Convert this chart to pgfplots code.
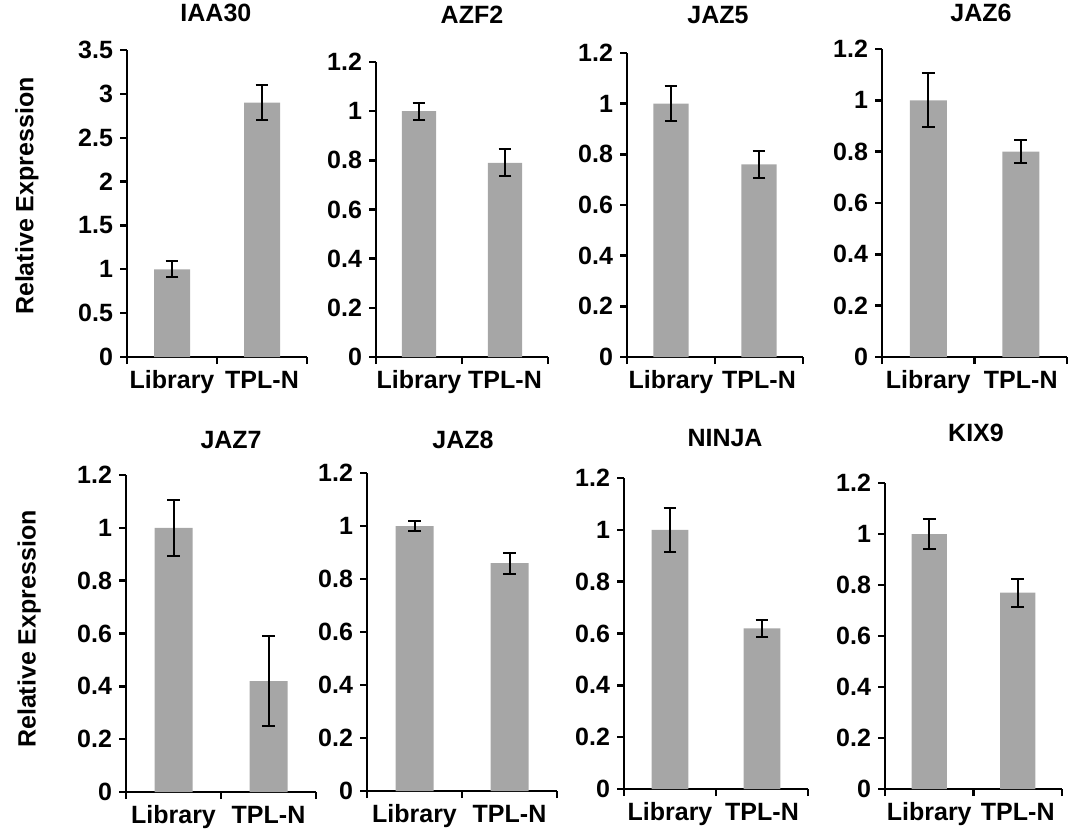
\documentclass[border=0pt]{standalone}
\usepackage{fontspec}
\setmainfont{Liberation Sans}
\usepackage{pgfplots}
\pgfplotsset{compat=1.18}
\definecolor{barcol}{RGB}{166,166,166}
\pgfplotsset{
  panel/.style={
    scale only axis, anchor=south west,
    xmin=0.5, xmax=2.5, ymin=0,
    axis x line*=bottom, axis y line*=left,
    axis line style={-, line width=1.2pt, black},
    tick align=outside,
    major tick length=3.5pt,
    tick style={black, line width=1.2pt},
    xtick={0.5,1.5,2.5}, x tick label as interval, xticklabels={Library,TPL-N},
    tick label style={font=\bfseries\fontsize{12.5}{14}\selectfont},
    xticklabel style={text height=0.75em, text depth=0.22em, yshift=-1pt},
    /pgf/number format/assume math mode=true,
    title style={font=\bfseries\fontsize{12.5}{14}\selectfont, anchor=center},
    ylabel style={font=\bfseries\fontsize{12.5}{14}\selectfont, anchor=center},
    clip=false,
  },
  small/.style={ymax=1.2, ytick={0,0.2,0.4,0.6,0.8,1,1.2}},
  bars/.style={ybar, fill=barcol, draw=none, bar width=0.4,
    error bars/.cd, y dir=both, y explicit,
    error bar style={line width=1pt, black},
    error mark options={rotate=90, mark size=3.2pt, line width=1pt, black}},
}
\begin{document}
\begin{tikzpicture}
\path[use as bounding box] (0,0) rectangle (534pt,415.5pt);
% ---- top row ----
\begin{axis}[panel, at={(63.5pt,237pt)}, width=90pt, height=153.5pt,
  ymax=3.5, ytick={0,0.5,1,1.5,2,2.5,3,3.5},
  title=IAA30, title style={at={(axis description cs:0.494,1.081)}},
  ylabel=Relative Expression, ylabel style={at={(axis description cs:-0.556,0.524)}}]
\addplot[bars] coordinates {(1,1.00) +- (0,0.09) (2,2.90) +- (0,0.20)};
\end{axis}
\begin{axis}[panel, small, at={(188pt,237pt)}, width=86pt, height=147.5pt,
  title=AZF2, title style={at={(axis description cs:0.558,1.119)}}]
\addplot[bars] coordinates {(1,1.00) +- (0,0.035) (2,0.79) +- (0,0.055)};
\end{axis}
\begin{axis}[panel, small, at={(313.5pt,237pt)}, width=88pt, height=152pt,
  title=JAZ5, title style={at={(axis description cs:0.517,1.086)}}]
\addplot[bars] coordinates {(1,1.00) +- (0,0.068) (2,0.76) +- (0,0.055)};
\end{axis}
\begin{axis}[panel, small, at={(441pt,237pt)}, width=92.5pt, height=154pt,
  title=JAZ6, title style={at={(axis description cs:0.535,1.078)}}]
\addplot[bars] coordinates {(1,1.00) +- (0,0.105) (2,0.80) +- (0,0.045)};
\end{axis}
% ---- bottom row ----
\begin{axis}[panel, small, at={(63pt,19.5pt)}, width=95pt, height=158.5pt,
  title=JAZ7, title style={at={(axis description cs:0.553,1.073)}},
  ylabel=Relative Expression, ylabel style={at={(axis description cs:-0.51,0.514)}}]
\addplot[bars] coordinates {(1,1.00) +- (0,0.105) (2,0.42) +- (0,0.17)};
\end{axis}
\begin{axis}[panel, small, at={(183.5pt,20pt)}, width=95pt, height=159pt,
  title=JAZ8, title style={at={(axis description cs:0.505,1.066)}}]
\addplot[bars] coordinates {(1,1.00) +- (0,0.02) (2,0.86) +- (0,0.04)};
\end{axis}
\begin{axis}[panel, small, at={(312pt,21pt)}, width=92pt, height=155.5pt,
  title=NINJA, title style={at={(axis description cs:0.549,1.09)}}]
\addplot[bars] coordinates {(1,1.00) +- (0,0.085) (2,0.62) +- (0,0.033)};
\end{axis}
\begin{axis}[panel, small, at={(442.5pt,21pt)}, width=88.5pt, height=153pt,
  title=KIX9, title style={at={(axis description cs:0.514,1.124)}}]
\addplot[bars] coordinates {(1,1.00) +- (0,0.057) (2,0.77) +- (0,0.055)};
\end{axis}
\end{tikzpicture}
\end{document}
